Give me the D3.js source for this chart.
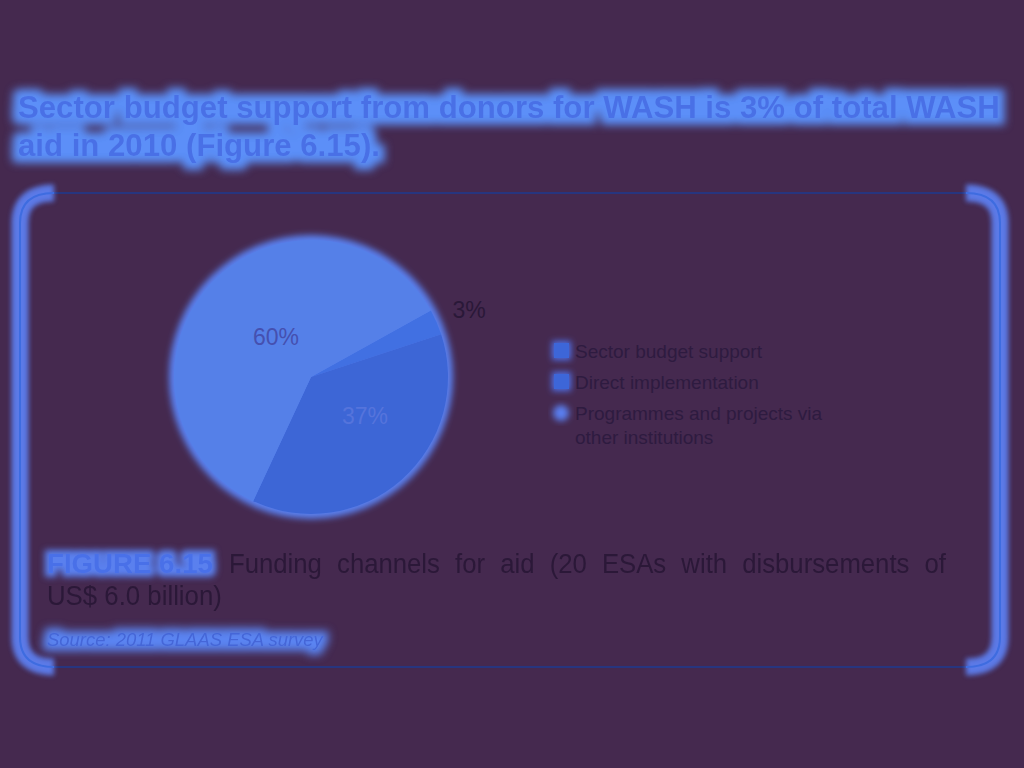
<!DOCTYPE html>
<html><head><meta charset="utf-8">
<script src="https://cdn.jsdelivr.net/npm/d3@7"></script>
<style>html,body{margin:0;padding:0;background:#45294f;}svg{display:block;}
.narrow{font-family:"Liberation Sans Narrow","Liberation Sans",Arial;}
</style>
</head><body>
<svg id="c" width="1024" height="768"></svg>
<script>
const categories = ["Sector budget support", "Direct implementation", "Programmes and projects via other institutions"];
const values = [3, 37, 60];
const sliceLabels = ["3%", "37%", "60%"];
const titleLines = ["Sector budget support from donors for WASH is 3% of total WASH", "aid in 2010 (Figure 6.15)."];
const captionLines = ["Funding channels for aid (20 ESAs with disbursements of", "US$ 6.0 billion)"];
const figureLabel = "FIGURE 6.15";
const sourceText = "Source: 2011 GLAAS ESA survey";
const legendLines = [["Sector budget support"], ["Direct implementation"], ["Programmes and projects via", "other institutions"]];

const svg = d3.select("#c");
const defs = svg.append("defs");
function glow(id, color, dil, blur, op) {
  const f = defs.append("filter").attr("id", id).attr("filterUnits", "userSpaceOnUse")
    .attr("x", 0).attr("y", 0).attr("width", 1024).attr("height", 768);
  f.append("feMorphology").attr("in", "SourceAlpha").attr("operator", "dilate").attr("radius", dil).attr("result", "d");
  f.append("feGaussianBlur").attr("in", "d").attr("stdDeviation", blur).attr("result", "b");
  f.append("feFlood").attr("flood-color", color).attr("flood-opacity", op).attr("result", "c");
  f.append("feComposite").attr("in", "c").attr("in2", "b").attr("operator", "in").attr("result", "g");
  const m = f.append("feMerge");
  m.append("feMergeNode").attr("in", "g");
  m.append("feMergeNode").attr("in", "SourceGraphic");
}
glow("gT", "#5b8ff8", 7, 4, 1);
glow("gS", "#5a84f2", 5, 4, 1);
glow("gP", "#5a80ee", 4, 3, 1);
glow("gL", "#4f70e8", 2, 3, 1);
const fb = defs.append("filter").attr("id", "blurLine").attr("filterUnits", "userSpaceOnUse")
  .attr("x", 0).attr("y", 0).attr("width", 1024).attr("height", 768);
fb.append("feGaussianBlur").attr("stdDeviation", 2.5);
const fb2 = defs.append("filter").attr("id", "blurObj").attr("x", "-30%").attr("y", "-30%").attr("width", "160%").attr("height", "160%");
fb2.append("feGaussianBlur").attr("stdDeviation", 3);

// Place text at (x,y), squeezed horizontally to fit width w; with justify, extra word gap `gap` px
function fitText(parent, str, x, y, w, opts) {
  const t = parent.append("text").attr("class", "narrow").text(str);
  if (opts.weight) t.attr("font-weight", opts.weight);
  if (opts.style) t.attr("font-style", opts.style);
  t.attr("font-size", opts.size).attr("fill", opts.fill);
  const nat = t.node().getComputedTextLength();
  let sx = w / nat;
  if (opts.gap) {
    const gaps = str.split(" ").length - 1;
    sx = (w - gaps * opts.gap) / nat;
    t.attr("word-spacing", opts.gap / sx);
  }
  t.attr("transform", `translate(${x},${y}) scale(${sx},1)`);
  return t;
}

// Title
const tg = svg.append("g").attr("filter", "url(#gT)");
fitText(tg, titleLines[0], 18, 118, 982, {size: 31, weight: "bold", fill: "#4a70e6"});
fitText(tg, titleLines[1], 18, 156, 362, {size: 31, weight: "bold", fill: "#4a70e6"});

// Frame
const fx0 = 20, fx1 = 1000, fy0 = 193, fy1 = 667;
const frame = svg.append("g");
frame.append("rect").attr("x", fx0).attr("y", fy0).attr("width", fx1 - fx0).attr("height", fy1 - fy0).attr("rx", 26)
  .attr("fill", "none").attr("stroke", "#27357f").attr("stroke-width", 2);
const sidePath = (x0, dir) => {
  const p = d3.path();
  p.moveTo(x0 + dir * 34, fy0);
  p.quadraticCurveTo(x0, fy0, x0, fy0 + 30);
  p.lineTo(x0, fy1 - 30);
  p.quadraticCurveTo(x0, fy1, x0 + dir * 34, fy1);
  return p.toString();
};
[[fx0, 1], [fx1, -1]].forEach(([x, dir]) => {
  frame.append("path").attr("d", sidePath(x, dir)).attr("fill", "none")
    .attr("stroke", "#5d7ff0").attr("stroke-width", 17).attr("filter", "url(#blurLine)").attr("opacity", 0.95);
  frame.append("path").attr("d", sidePath(x, dir)).attr("fill", "none")
    .attr("stroke", "#3e6ce0").attr("stroke-width", 2);
});

// Pie
const cx = 311, cy = 377, R = 137;
const color = d3.scaleOrdinal().domain(categories).range(["#4170e2", "#3d66d6", "#5580e8"]);
const pie = d3.pie().sort(null).startAngle(61 * Math.PI / 180).endAngle(61 * Math.PI / 180 + 2 * Math.PI);
const arcs = pie(values);
const arc = d3.arc().innerRadius(0).outerRadius(R);
const pg = svg.append("g").attr("transform", `translate(${cx},${cy})`);
pg.append("circle").attr("r", R + 5).attr("fill", "#5a80ef").attr("filter", "url(#blurObj)");
pg.selectAll("path").data(arcs).join("path").attr("d", arc).attr("fill", (d, i) => color(categories[i]));

// Slice labels
const lblPos = [[469, 318], [365, 424], [276, 345]];
const lblColor = ["#2a1838", "#5574dc", "#4550b0"];
svg.selectAll("text.sl").data(arcs).join("text").attr("class", "sl")
  .attr("x", (d, i) => lblPos[i][0])
  .attr("y", (d, i) => lblPos[i][1])
  .attr("text-anchor", "middle")
  .attr("font-family", "Liberation Sans, Arial").attr("font-size", 23)
  .attr("fill", (d, i) => lblColor[i])
  .text((d, i) => sliceLabels[i]);

// Legend
const lg = svg.append("g");
const ly = [351, 382, 413];
lg.selectAll("rect").data(categories.slice(0, 2)).join("rect")
  .attr("x", 554).attr("y", (d, i) => ly[i] - 8).attr("width", 15).attr("height", 15)
  .attr("fill", "#3d66d8").attr("filter", "url(#gL)");
lg.append("circle").attr("cx", 561).attr("cy", ly[2]).attr("r", 8).attr("fill", "#5a7ff0").attr("filter", "url(#blurObj)");
legendLines.forEach((lines, i) => {
  lg.append("text").attr("x", 575).attr("y", ly[i] + 7)
    .attr("font-family", "Liberation Sans, Arial").attr("font-size", 19).attr("fill", "#2e1b40")
    .selectAll("tspan").data(lines).join("tspan").attr("x", 575).attr("dy", (d, j) => j === 0 ? 0 : 24).text(d => d);
});

// Caption
const cap = svg.append("g");
fitText(cap.append("g").attr("filter", "url(#gP)"), figureLabel, 47, 573, 166, {size: 27, weight: "bold", fill: "#4a70e8"});
fitText(cap, captionLines[0], 229, 573, 717, {size: 27, fill: "#2b1838", gap: 8});
fitText(cap, captionLines[1], 47, 605, 175, {size: 27, fill: "#2b1838"});

// Source
fitText(svg.append("g").attr("filter", "url(#gS)"), sourceText, 47, 646, 276, {size: 19, style: "italic", fill: "#4466d8"});
</script>
</body></html>
